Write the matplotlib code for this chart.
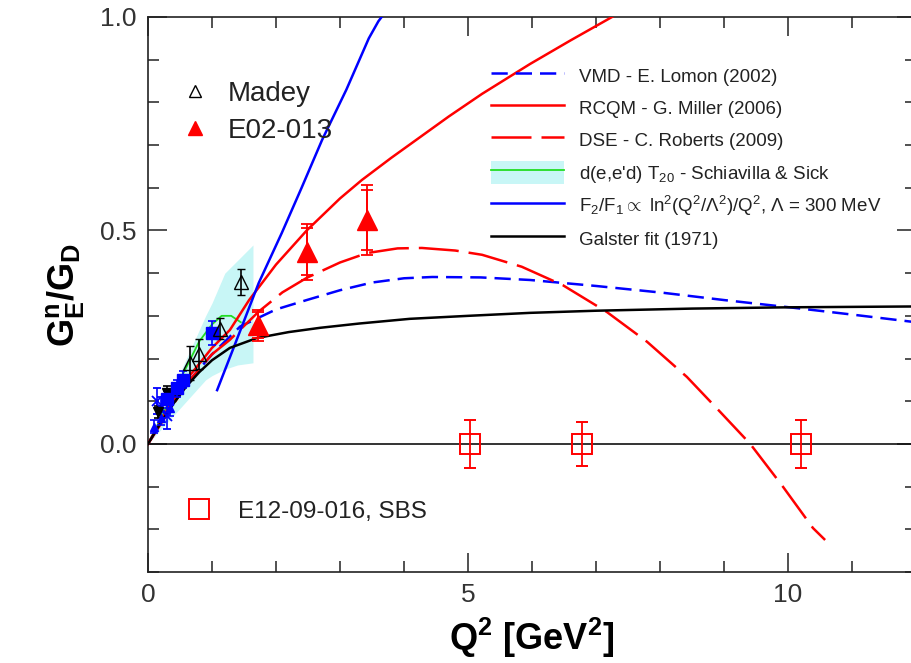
import matplotlib
matplotlib.use('Agg')
import matplotlib.pyplot as plt
from matplotlib.lines import Line2D
from matplotlib.patches import Patch

plt.rcParams['font.family'] = ['Liberation Sans', 'DejaVu Sans']
plt.rcParams['mathtext.fontset'] = 'custom'
plt.rcParams['mathtext.rm'] = 'Liberation Sans'
plt.rcParams['mathtext.it'] = 'Liberation Sans'
plt.rcParams['mathtext.bf'] = 'Liberation Sans:bold'

# ---- theory curves ----
q_f2f1 = [1.08, 1.35, 1.73, 2.09, 2.40, 2.72, 3.10, 3.45, 3.60, 3.70]
g_f2f1 = [0.126, 0.23, 0.377, 0.494, 0.60, 0.712, 0.83, 0.95, 0.99, 1.01]

q_rcqm = [0, 0.3, 0.6, 1.0, 1.28, 1.58, 2.0, 2.48, 3.0, 3.34, 3.8, 4.19, 4.7, 5.22, 5.97, 6.6, 7.25, 7.6]
g_rcqm = [0, 0.08, 0.15, 0.225, 0.267, 0.337, 0.42, 0.50, 0.575, 0.618, 0.67, 0.712, 0.767, 0.82, 0.89, 0.945, 1.0, 1.03]

q_dse = [0, 0.3, 0.6, 1.0, 1.28, 1.73, 2.1, 2.48, 3.0, 3.42, 3.9, 4.28, 4.8, 5.22, 5.84, 6.48, 7.17, 7.8, 8.42, 8.94, 9.41, 9.92, 10.39, 10.58]
g_dse = [0, 0.07, 0.14, 0.21, 0.244, 0.31, 0.355, 0.389, 0.425, 0.447, 0.458, 0.459, 0.453, 0.443, 0.415, 0.372, 0.309, 0.239, 0.157, 0.075, 0.0, -0.10, -0.197, -0.225]

q_vmd = [0, 0.3, 0.6, 1.0, 1.44, 2.0, 2.48, 3.0, 3.5, 4.0, 4.44, 5.2, 5.97, 7.0, 8.05, 9.0, 10.14, 11.0, 12.0]
g_vmd = [0, 0.075, 0.14, 0.21, 0.275, 0.315, 0.337, 0.36, 0.378, 0.388, 0.391, 0.39, 0.384, 0.37, 0.354, 0.337, 0.318, 0.303, 0.285]

q_galster = [0, 0.2, 0.4, 0.6, 0.8, 1.0, 1.28, 1.7, 2.2, 2.69, 3.3, 4.09, 5.0, 5.97, 7.0, 8.5, 10.0, 12.0]
g_galster = [0, 0.05, 0.095, 0.135, 0.168, 0.196, 0.225, 0.248, 0.262, 0.272, 0.282, 0.293, 0.30, 0.307, 0.312, 0.317, 0.32, 0.322]

# d(e,e'd) T20 band and central line
q_band = [0, 0.3, 0.6, 0.9, 1.0, 1.2, 1.4, 1.64]
g_band_lo = [0, 0.05, 0.10, 0.15, 0.16, 0.175, 0.185, 0.19]
g_band_hi = [0, 0.10, 0.20, 0.30, 0.33, 0.40, 0.43, 0.466]
q_t20 = [0, 0.2, 0.5, 0.8, 1.0, 1.15, 1.3, 1.45]
g_t20 = [0, 0.06, 0.15, 0.24, 0.28, 0.30, 0.30, 0.285]

# ---- data ----
q_madey = [0.65, 0.80, 1.13, 1.45]
g_madey = [0.19, 0.21, 0.27, 0.38]
e_madey = [0.04, 0.035, 0.025, 0.03]

q_e02 = [1.72, 2.48, 3.42]
g_e02 = [0.278, 0.450, 0.525]
e_e02_stat = [0.030, 0.055, 0.07]
e_e02_tot = [0.036, 0.065, 0.082]

q_blue_sq = [0.30, 0.45, 0.55, 1.0]
g_blue_sq = [0.105, 0.13, 0.15, 0.26]
e_blue_sq = [0.02, 0.02, 0.02, 0.028]

q_blk_dn = [0.15, 0.30, 0.45]
g_blk_dn = [0.075, 0.12, 0.128]
e_blk_dn = [0.015, 0.015, 0.015]

q_blue_x = [0.14, 0.20, 0.30]
g_blue_x = [0.10, 0.085, 0.065]
e_blue_x = [0.03, 0.025, 0.03]

q_blue_up = [0.10, 0.20, 0.35]
g_blue_up = [0.04, 0.06, 0.085]
e_blue_up = [0.015, 0.015, 0.02]

q_sbs = [5.03, 6.78, 10.2]
g_sbs = [0.0, 0.0, 0.0]
e_sbs = [0.056, 0.051, 0.056]

fig = plt.figure(figsize=(9.12, 6.63), dpi=100)
ax = fig.add_axes([148/912, 91/663, 768/912, 555/663])

blue = '#0000ff'
red = '#ff0000'
cyan = '#c8f6f6'

ax.fill_between(q_band, g_band_lo, g_band_hi, color=cyan, lw=0, zorder=1)
ax.plot(q_t20, g_t20, color='#22dd22', lw=1.3, zorder=2)
ax.axhline(0, color='#111111', lw=1.2, zorder=2)

l_vmd, = ax.plot(q_vmd, g_vmd, color=blue, lw=1.8, dashes=(6.5, 3.2), zorder=3)
l_rcqm, = ax.plot(q_rcqm, g_rcqm, color=red, lw=1.8, zorder=3)
l_dse, = ax.plot(q_dse, g_dse, color=red, lw=1.8, dashes=(16, 4), zorder=3)
l_f2, = ax.plot(q_f2f1, g_f2f1, color=blue, lw=1.8, zorder=3)
l_gal, = ax.plot(q_galster, g_galster, color='black', lw=1.8, zorder=3)

eb = dict(capsize=3, elinewidth=1.2, capthick=1.2, ls='none', zorder=4)
ax.errorbar(q_blue_up, g_blue_up, yerr=e_blue_up, fmt='^', color=blue, ms=6, **eb)
ax.errorbar(q_blue_x, g_blue_x, yerr=e_blue_x, fmt='x', color=blue, ms=7, mew=1.3, **eb)
ax.errorbar(q_blk_dn, g_blk_dn, yerr=e_blk_dn, fmt='v', color='black', ms=7, **eb)
ax.errorbar(q_blue_sq, g_blue_sq, yerr=e_blue_sq, fmt='s', color=blue, ms=9, **eb)
ax.errorbar(q_madey, g_madey, yerr=e_madey, fmt='^', color='black', mfc='none', ms=10, mew=1.0, **eb)
ax.errorbar(q_e02, g_e02, yerr=e_e02_tot, fmt='none', ecolor=red, capsize=4, elinewidth=1.3, capthick=1.3, zorder=4)
ax.errorbar(q_e02, g_e02, yerr=e_e02_stat, fmt='^', color=red, ms=14, capsize=4, elinewidth=1.3, capthick=1.3, zorder=5)
ax.errorbar(q_sbs, g_sbs, yerr=e_sbs, fmt='s', color=red, mfc='none', ms=15, mew=1.4, capsize=4, elinewidth=1.3, capthick=1.3, zorder=5)

ax.set_xlim(0, 12)
ax.set_ylim(-0.3, 1.0)
ax.set_xticks([0, 5, 10])
ax.set_xticks(range(0, 13), minor=True)
ax.set_yticks([0.0, 0.5, 1.0])
ax.set_yticks([i / 10 for i in range(-3, 11)], minor=True)
ax.set_yticklabels(['0.0', '0.5', '1.0'])
ax.tick_params(which='both', direction='in', top=True, right=True, labelsize=19,
               labelcolor='#333333', color='#222222', width=1.1)
ax.tick_params(which='major', length=14, pad=8)
ax.tick_params(which='minor', length=8)
for s in ax.spines.values():
    s.set_linewidth(1.2)
    s.set_color('#222222')

ax.set_xlabel(r'$\mathbf{Q^2\ [GeV^2]}$', fontsize=26, labelpad=6)
ax.set_ylabel(r'$\mathbf{G^n_E/G_D}$', fontsize=26, labelpad=10)

# right legend (theory)
handles = [l_vmd, l_rcqm, l_dse,
           (Patch(facecolor=cyan, edgecolor='none'), Line2D([], [], color='#22dd22', lw=1.3)),
           l_f2, l_gal]
labels = ['VMD - E. Lomon (2002)', 'RCQM - G. Miller (2006)', 'DSE - C. Roberts (2009)',
          "d(e,e'd) T$_{20}$ - Schiavilla & Sick",
          r'F$_2$/F$_1$$\propto$ ln$^2$(Q$^2$/$\Lambda^2$)/Q$^2$, $\Lambda$ = 300 MeV',
          'Galster fit (1971)']
leg1 = ax.legend(handles, labels, loc='upper left', bbox_to_anchor=(0.446, 0.915), frameon=False,
                 fontsize=13.5, handlelength=3.9, handleheight=1.5, handletextpad=0.8,
                 labelspacing=0.5, borderpad=0, borderaxespad=0)
for t in leg1.get_texts():
    t.set_color('#222222')
ax.add_artist(leg1)

h_madey = Line2D([], [], marker='^', ls='none', color='black', mfc='none', ms=9)
h_e02 = Line2D([], [], marker='^', ls='none', color=red, ms=10)
leg2 = ax.legend([h_madey, h_e02], ['Madey', 'E02-013'], loc='upper left', bbox_to_anchor=(0.04, 0.885),
                 frameon=False, fontsize=20, handlelength=1.2, handletextpad=0.55,
                 labelspacing=0.4, borderpad=0, borderaxespad=0)
for t in leg2.get_texts():
    t.set_color('#222222')
ax.add_artist(leg2)

h_sbs = Line2D([], [], marker='s', ls='none', color=red, mfc='none', ms=15, mew=1.4)
leg3 = ax.legend([h_sbs], ['E12-09-016, SBS'], loc='upper left', bbox_to_anchor=(0.047, 0.128),
                 frameon=False, fontsize=17.5, handlelength=1.2, handletextpad=1.0,
                 borderpad=0, borderaxespad=0)
for t in leg3.get_texts():
    t.set_color('#222222')

fig.savefig('out.png', dpi=100)
